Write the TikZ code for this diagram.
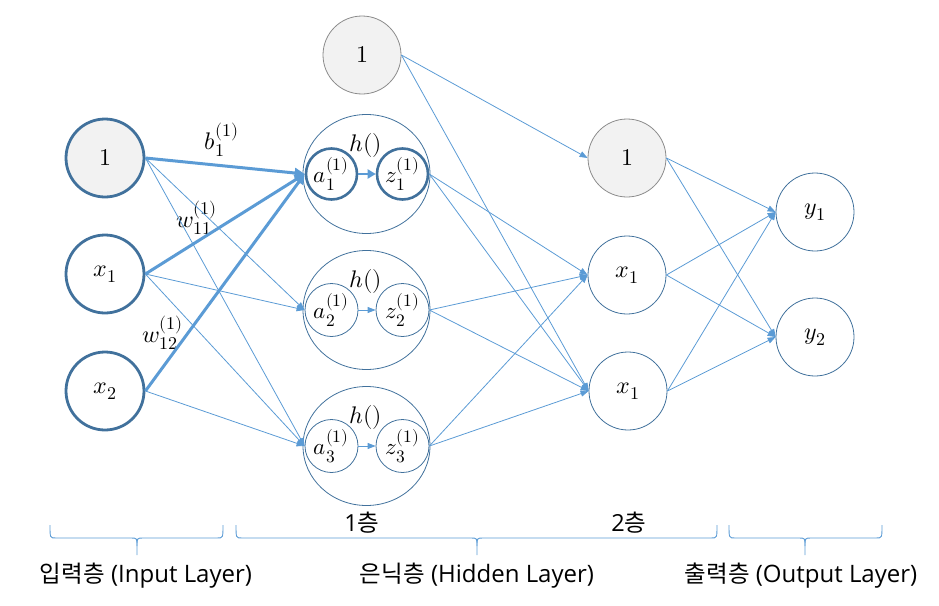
\documentclass[tikz,border=0pt]{standalone}
\usepackage{unicode-math}
\setmathfont{Latin Modern Math}
\DeclareMathSizes{24}{24}{18}{14}
\DeclareMathSizes{23}{23}{17.5}{13.5}
\newfontfamily\krfont{Noto Sans CJK KR}
\newfontfamily\latfont{Open Sans}
\usetikzlibrary{arrows.meta,shapes.geometric}
\definecolor{lb}{HTML}{5B9BD5}
\definecolor{db}{HTML}{41719C}
\definecolor{gr}{HTML}{8C8C8C}
\definecolor{fl}{HTML}{F2F2F2}
\newcommand{\kt}[2]{{\krfont\fontsize{23.5}{26}\selectfont #1}{\latfont\fontsize{24}{26}\selectfont\ #2}}
\begin{document}
\begin{tikzpicture}[x=1pt,y=-1pt,
  neuron/.style={circle, minimum size=78pt, inner sep=0pt, draw=db, line width=0.8pt, font=\fontsize{24}{26}\selectfont},
  thickneuron/.style={neuron, line width=2.8pt, minimum size=78pt},
  biasnode/.style={neuron, draw=gr, fill=fl},
  hbox/.style={ellipse, minimum width=127pt, minimum height=119pt, inner sep=0pt, draw=db, line width=0.8pt},
  inner/.style={circle, minimum size=53pt, inner sep=0pt, draw=db, line width=0.8pt, font=\fontsize{23}{26}\selectfont},
  thickinner/.style={inner, line width=2.6pt, minimum size=51pt},
  conn/.style={lb, line width=0.8pt, -{Triangle[length=8pt,width=6pt]}},
  thickconn/.style={lb, line width=3pt, -{Triangle[length=10pt,width=10pt]}},
  wlab/.style={font=\fontsize{24}{26}\selectfont, inner sep=0pt},
  brace/.style={lb, line width=0.9pt},
  bottomlab/.style={inner sep=0pt}
]
\useasboundingbox (0,0) rectangle (939,605);

% input layer
\node[thickneuron, fill=fl] (i0) at (105,158) {$1$};
\node[thickneuron] (i1) at (105,274) {$x_1$};
\node[thickneuron] (i2) at (105,391) {$x_2$};

% hidden layer
\node[biasnode] (hb) at (362,55) {$1$};
\foreach \k/\yy in {1/174,2/310,3/446}{
  \node[hbox] (h\k) at (366.5,\yy) {};
  \node[wlab] (hl\k) at (366,\yy-29) {$h()$};
}
\node[thickinner] (a1) at (331.5,174) {$a_1^{(1)}$};
\node[thickinner] (z1) at (402.5,174) {$z_1^{(1)}$};
\node[inner] (a2) at (331.5,310) {$a_2^{(1)}$};
\node[inner] (z2) at (402.5,310) {$z_2^{(1)}$};
\node[inner] (a3) at (331.5,446) {$a_3^{(1)}$};
\node[inner] (z3) at (402.5,446) {$z_3^{(1)}$};

% second layer
\node[biasnode] (b2) at (627,158) {$1$};
\node[neuron] (m1) at (627,275) {$x_1$};
\node[neuron] (m2) at (628,391) {$x_1$};

% output layer
\node[neuron] (y1) at (815,212) {$y_1$};
\node[neuron] (y2) at (815,337) {$y_2$};

% weights labels
\node[wlab] (lb) at (222,140) {$b_1^{(1)}$};
\node[wlab] (lw11) at (197,218) {$w_{11}^{(1)}$};
\node[wlab] (lw12) at (163,333) {$w_{12}^{(1)}$};

% input -> hidden
\draw[conn] (i0.east) -- (a2.west);
\draw[conn] (i0.east) -- (a3.west);
\draw[conn] (i1.east) -- (a2.west);
\draw[conn] (i1.east) -- (a3.west);
\draw[conn] (i2.east) -- (a3.west);
\draw[thickconn] (i0.east) -- (a1.west);
\draw[thickconn] (i1.east) -- (a1.west);
\draw[thickconn] (i2.east) -- (a1.west);

% inside hidden
\draw[thickconn, line width=2.6pt, -{Triangle[length=8pt,width=9pt]}] (a1.east) -- (z1.west);
\draw[conn] (a2.east) -- (z2.west);
\draw[conn] (a3.east) -- (z3.west);

% hidden -> second
\draw[conn] (hb.east) -- (b2.west);
\draw[conn] (hb.east) -- (m2.west);
\foreach \k in {1,2,3}{
  \draw[conn] (z\k.east) -- (m1.west);
  \draw[conn] (z\k.east) -- (m2.west);
}

% second -> output
\foreach \s in {b2,m1,m2}{
  \draw[conn] (\s.east) -- (y1.west);
  \draw[conn] (\s.east) -- (y2.west);
}

% braces
\foreach \l/\m/\r/\n in {50/137/223/1, 236/477/717/2, 729/805/882/3}{
  \draw[brace] (\l,525) .. controls (\l,538) .. (\l+6,538) -- (\m-6,538)
     .. controls (\m,538) .. (\m,546) -- (\m,555);
  \draw[brace] (\m,546) .. controls (\m,538) .. (\m+6,538) -- (\r-6,538)
     .. controls (\r,538) .. (\r,525);
  \coordinate (bt\n) at (\m,555);
}
\node[bottomlab] (t1) at (362,523) {{\latfont\fontsize{23.5}{26}\selectfont 1}{\krfont\fontsize{23.5}{26}\selectfont 층}};
\node[bottomlab] (t2) at (629,523) {{\latfont\fontsize{23.5}{26}\selectfont 2}{\krfont\fontsize{23.5}{26}\selectfont 층}};
\node[bottomlab] (L1) at (146,576) {\kt{입력층}{(Input Layer)}};
\node[bottomlab] (L2) at (477,576) {\kt{은닉층}{(Hidden Layer)}};
\node[bottomlab] (L3) at (801,576) {\kt{출력층}{(Output Layer)}};
\end{tikzpicture}
\end{document}
